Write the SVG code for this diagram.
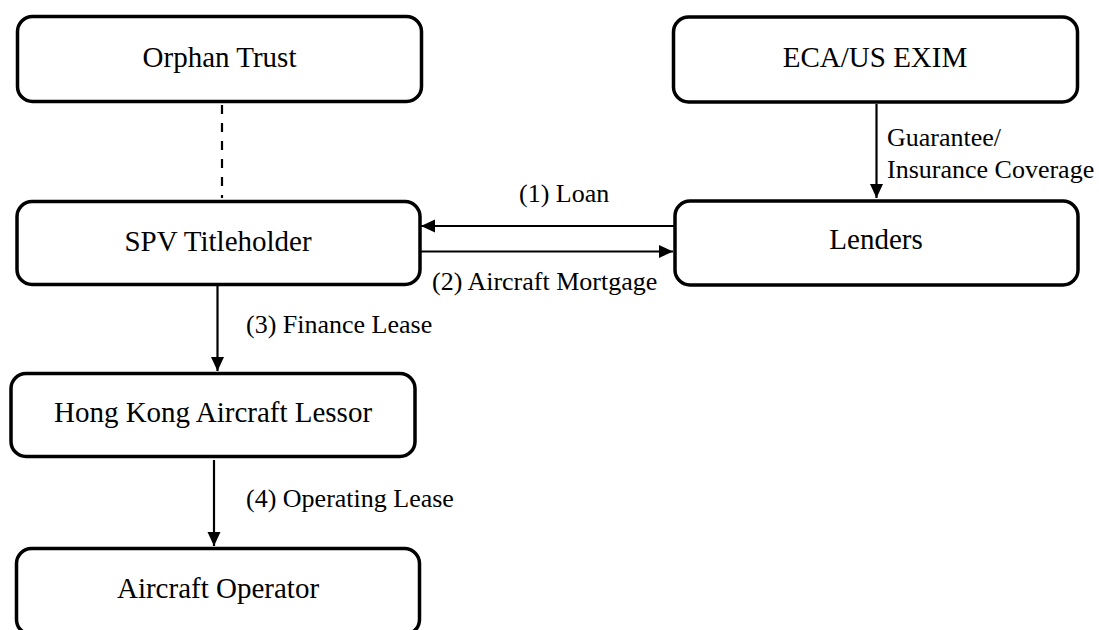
<svg xmlns="http://www.w3.org/2000/svg" width="1099" height="630" viewBox="0 0 1099 630">
  <style>
    .box { fill: #ffffff; stroke: #000000; stroke-width: 3.5; }
    .node-label { font-family: "Liberation Serif", "Times New Roman", serif; font-size: 29px; fill: #000000; text-anchor: middle; }
    .edge-label { font-family: "Liberation Serif", "Times New Roman", serif; font-size: 26px; fill: #000000; }
    .link { stroke: #000000; stroke-width: 2.2; fill: none; }
    .dashed { stroke-dasharray: 9 9; }
  </style>
  <defs>
    <marker id="arrow" markerUnits="userSpaceOnUse" markerWidth="15" markerHeight="14" refX="14" refY="7" orient="auto">
      <path d="M0,0.5 L14,7 L0,13.5 z" fill="#000000"/>
    </marker>
  </defs>
  <rect width="1099" height="630" fill="#ffffff"/>

  <!-- connectors -->
  <g id="connectors">
    <line class="link dashed" x1="222" y1="105" x2="222" y2="198"/>
    <line class="link" x1="876.5" y1="104" x2="876.5" y2="198" marker-end="url(#arrow)"/>
    <line class="link" x1="674" y1="226" x2="421" y2="226" marker-end="url(#arrow)"/>
    <line class="link" x1="420" y1="251.5" x2="673" y2="251.5" marker-end="url(#arrow)"/>
    <line class="link" x1="217.5" y1="286" x2="217.5" y2="371" marker-end="url(#arrow)"/>
    <line class="link" x1="214" y1="460" x2="214" y2="546" marker-end="url(#arrow)"/>
    <text class="edge-label" x="887" y="146">Guarantee/</text>
    <text class="edge-label" x="887" y="178">Insurance Coverage</text>
    <text class="edge-label" x="519" y="202">(1) Loan</text>
    <text class="edge-label" x="432" y="290">(2) Aircraft Mortgage</text>
    <text class="edge-label" x="246" y="333">(3) Finance Lease</text>
    <text class="edge-label" x="246" y="507">(4) Operating Lease</text>
  </g>

  <g id="orphan-trust">
    <rect class="box" x="17.5" y="16.5" width="404" height="85" rx="15"/>
    <text class="node-label" x="219.5" y="67">Orphan Trust</text>
  </g>
  <g id="eca-us-exim">
    <rect class="box" x="673.5" y="17" width="404" height="85" rx="15"/>
    <text class="node-label" x="875" y="67">ECA/US EXIM</text>
  </g>
  <g id="spv-titleholder">
    <rect class="box" x="17" y="201.5" width="403" height="83" rx="15"/>
    <text class="node-label" x="218" y="251">SPV Titleholder</text>
  </g>
  <g id="lenders">
    <rect class="box" x="675" y="201" width="403" height="84" rx="15"/>
    <text class="node-label" x="876" y="249">Lenders</text>
  </g>
  <g id="hk-aircraft-lessor">
    <rect class="box" x="11" y="373.5" width="404" height="83" rx="15"/>
    <text class="node-label" x="213" y="422">Hong Kong Aircraft Lessor</text>
  </g>
  <g id="aircraft-operator">
    <rect class="box" x="16.5" y="548.5" width="403" height="86" rx="15"/>
    <text class="node-label" x="218" y="598">Aircraft Operator</text>
  </g>
</svg>
